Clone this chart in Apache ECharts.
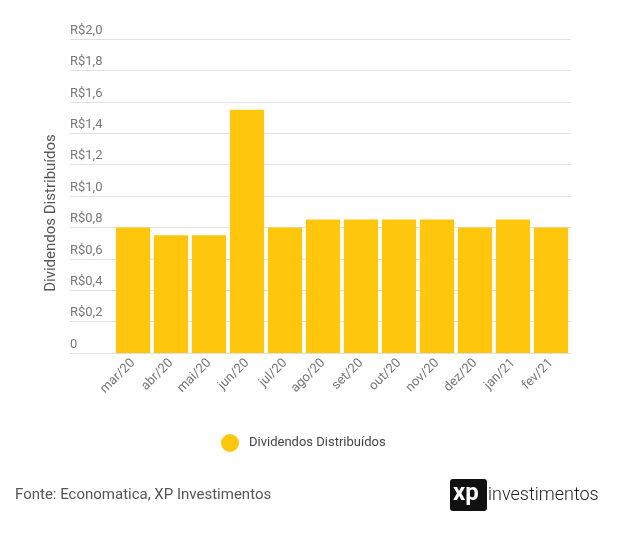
<!DOCTYPE html>
<html><head><meta charset="utf-8">
<script src="https://cdn.jsdelivr.net/npm/echarts@6/dist/echarts.min.js"></script>
<style>html,body{margin:0;padding:0;background:#fff}#c{width:621px;height:546px}</style>
</head><body><div id="c"></div>
<script>
const categories = ['mar/20','abr/20','mai/20','jun/20','jul/20','ago/20','set/20','out/20','nov/20','dez/20','jan/21','fev/21'];
const dividends = [0.80,0.75,0.75,1.55,0.80,0.85,0.85,0.85,0.85,0.80,0.85,0.80];
const yTicks = [0,0.2,0.4,0.6,0.8,1.0,1.2,1.4,1.6,1.8,2.0];
const seriesName = 'Dividendos Distribuídos';
const yTitle = 'Dividendos Distribuídos';
const sourceText = 'Fonte: Economatica, XP Investimentos';

const fmt = v => v === 0 ? '0' : 'R$' + v.toFixed(1).replace('.', ',');
const chart = echarts.init(document.getElementById('c'));
chart.setOption({
  animation:false,
  textStyle:{fontFamily:'Roboto'},
  grid:[
    {left:70, right:50, top:39, bottom:193},
    {left:114, right:51, top:39, bottom:193}
  ],
  xAxis:[
    {gridIndex:0, type:'value', min:0, max:1, show:false},
    {gridIndex:1, type:'category', data:categories,
     axisLine:{show:false}, axisTick:{show:false},
     axisLabel:{rotate:45, color:'#777', fontSize:13, margin:8, fontFamily:'Roboto'}}
  ],
  yAxis:[
    {gridIndex:0, type:'value', min:0, max:2, interval:0.2,
     axisLine:{show:false}, axisTick:{show:false},
     splitLine:{lineStyle:{color:'#e0e0e0', width:1}},
     axisLabel:{inside:true, margin:0, verticalAlign:'bottom', padding:[0,0,2,0],
       color:'#777', fontSize:13, fontFamily:'Roboto', formatter:fmt}},
    {gridIndex:1, type:'value', min:0, max:2, interval:0.2, show:false}
  ],
  legend:{left:221, top:434, padding:0, icon:'circle', itemWidth:18, itemHeight:18,
    textStyle:{color:'#444', fontSize:13, fontFamily:'Roboto', padding:[0,0,0,5]}, data:[seriesName]},
  series:[{name:seriesName, type:'bar', xAxisIndex:1, yAxisIndex:1, data:dividends,
    barCategoryGap:'10%', itemStyle:{color:'#FEC60C'}}],
  graphic:[
    {type:'text', x:51, y:213, rotation:Math.PI/2,
     style:{text:yTitle, fill:'#555', fontSize:15, fontFamily:'Roboto', textAlign:'center', textVerticalAlign:'middle'}},
    {type:'text', left:15, top:488, style:{text:sourceText, fill:'#555', fontSize:15, fontFamily:'Roboto'}},
    {type:'rect', left:450, top:479, shape:{width:37, height:32, r:3}, style:{fill:'#111'}},
    {type:'text', left:453, top:482, style:{text:'xp', fill:'#fff', fontSize:24, fontWeight:'bold', fontFamily:'Roboto'}},
    {type:'text', left:488, top:486, style:{text:'investimentos', fill:'#222', fontSize:18, fontWeight:300, fontFamily:'Roboto'}}
  ]
});
</script></body></html>
